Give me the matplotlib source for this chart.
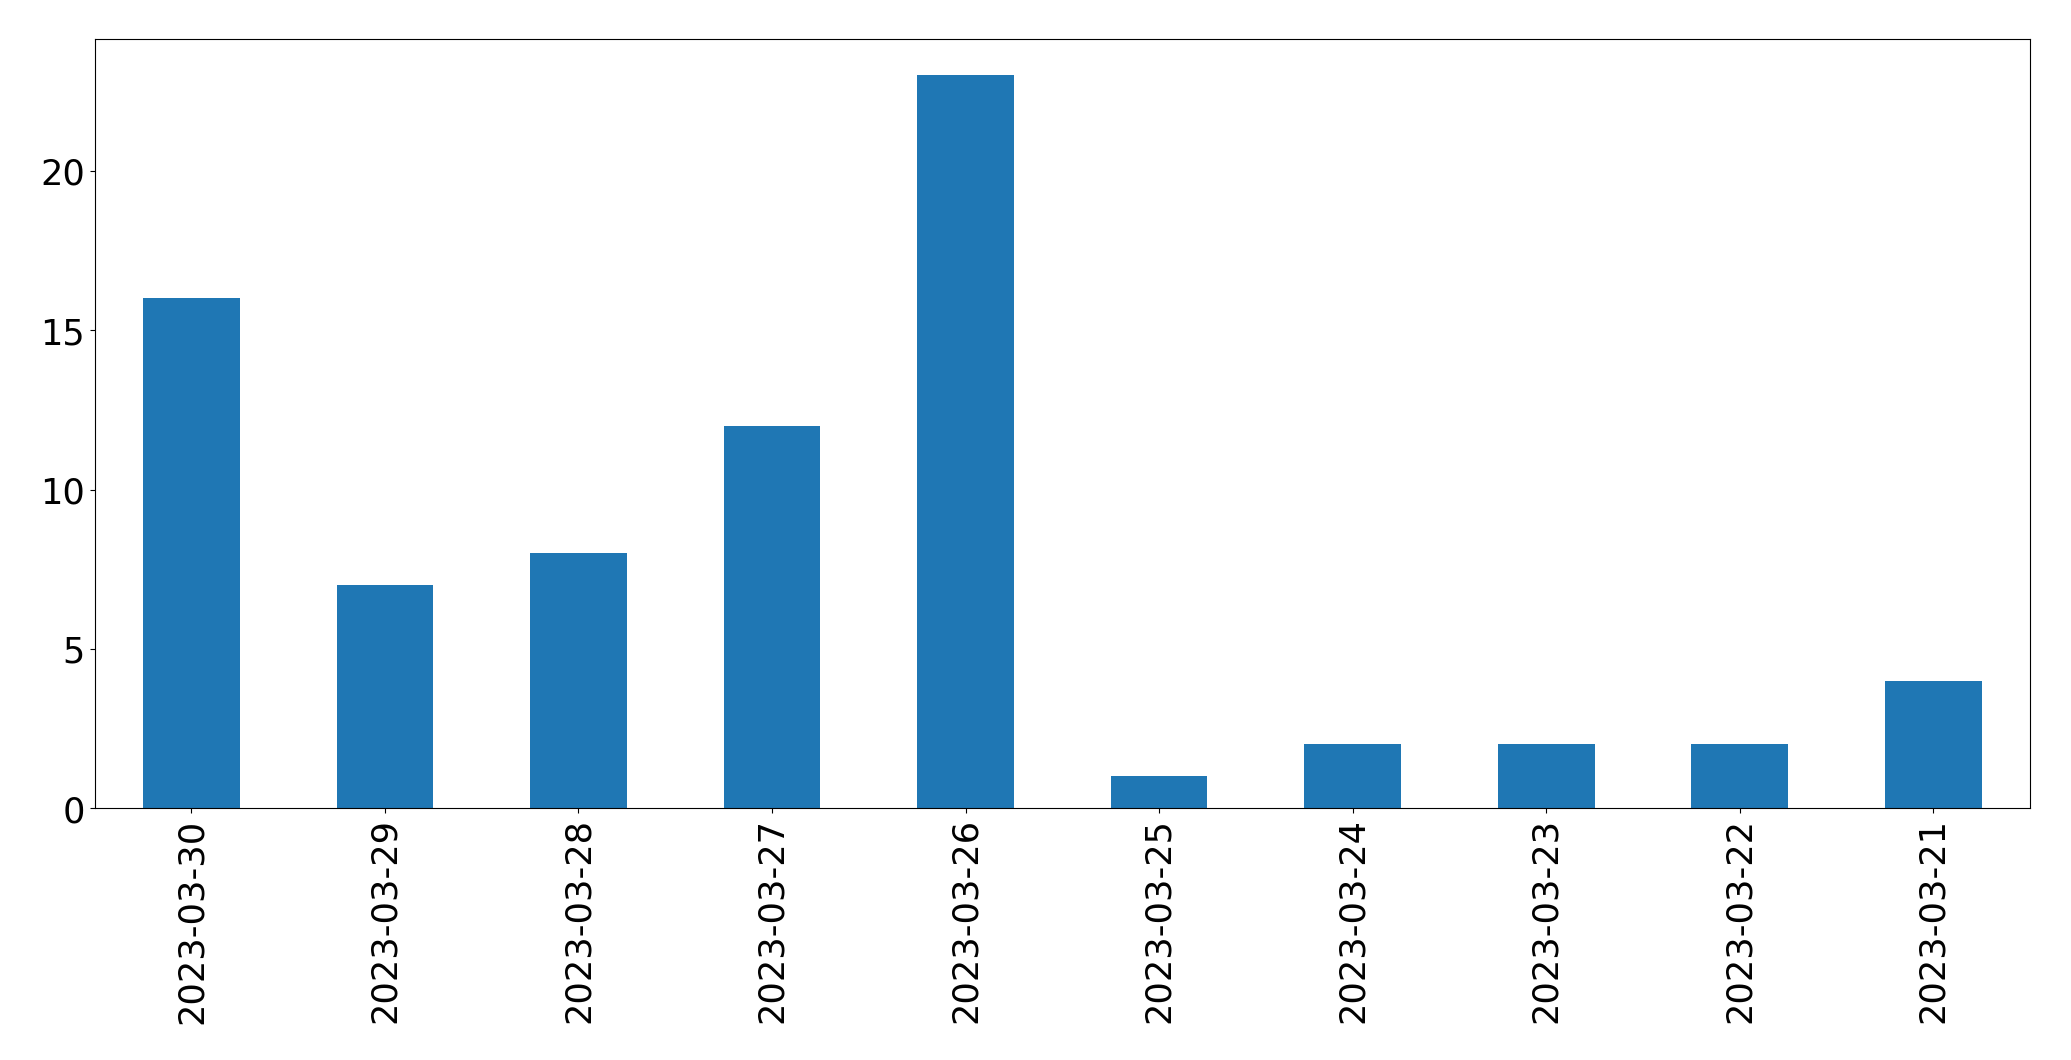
import matplotlib
matplotlib.use("Agg")
import matplotlib.pyplot as plt

dates = ["2023-03-30", "2023-03-29", "2023-03-28", "2023-03-27", "2023-03-26",
         "2023-03-25", "2023-03-24", "2023-03-23", "2023-03-22", "2023-03-21"]
counts = [16, 7, 8, 12, 23, 1, 2, 2, 2, 4]

fig = plt.figure(figsize=(20.71, 10.605), dpi=100)
ax = fig.add_axes([0.0457, 0.2375, 0.9802 - 0.0457, 0.963 - 0.2375])
x = list(range(len(dates)))
ax.bar(x, counts, width=0.5, color="#1f77b4")
ax.set_xlim(-0.5, len(dates) - 0.5)
ax.set_ylim(0, max(counts) * 1.05)
ax.set_xticks(x)
ax.set_xticklabels(dates, rotation=90)
ax.set_yticks([0, 5, 10, 15, 20])
ax.tick_params(labelsize=25.3)
fig.savefig("out.png", dpi=100)
